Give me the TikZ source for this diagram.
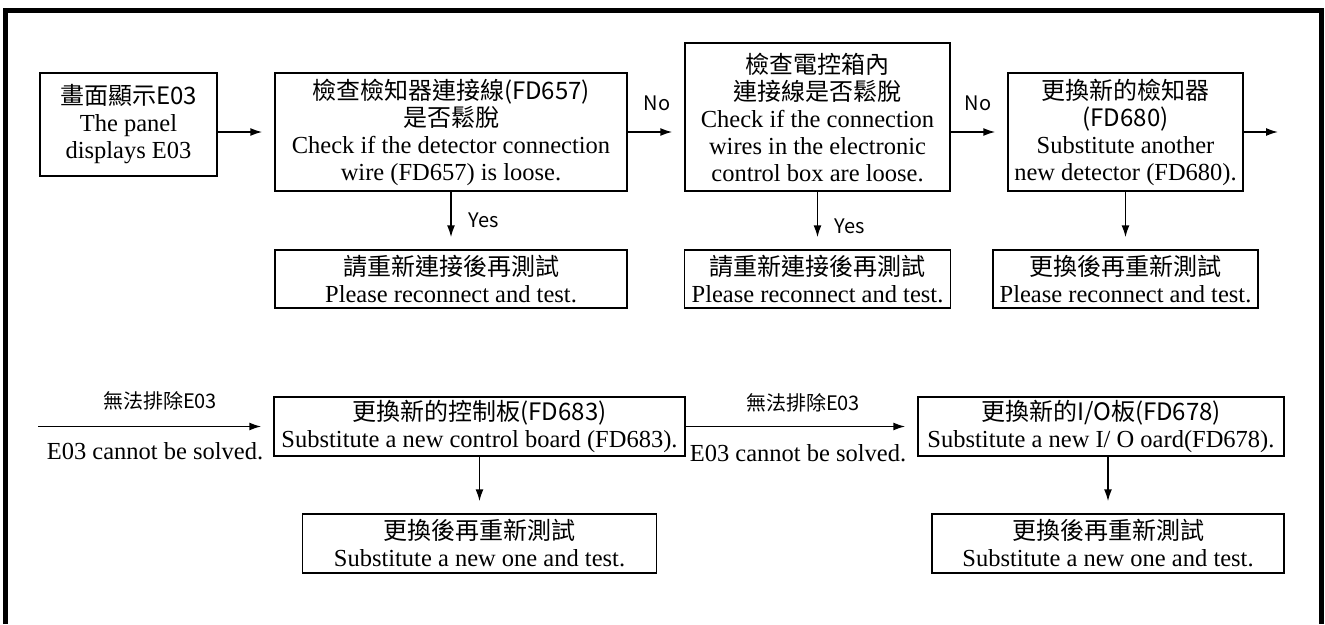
\documentclass[tikz,border=0pt]{standalone}
\usepackage{fontspec}
\setmainfont{Liberation Serif}
\newfontfamily\cjk{Noto Sans CJK TC}
\usetikzlibrary{arrows.meta}

\newcommand{\zhline}[1]{{\cjk\fontsize{24}{27}\selectfont #1}}

\begin{document}
\begin{tikzpicture}[x=1pt, y=-1pt,
    box/.style={draw, line width=1.5pt, inner sep=0pt, align=center,
                font=\fontsize{24.5}{27}\selectfont},
    arr/.style={-{Latex[length=12pt,width=8pt]}, line width=1.5pt, shorten >=12pt},
    tag/.style={font=\cjk\fontsize{20}{22}\selectfont},
    note/.style={font=\fontsize{24.5}{27}\selectfont}]

    \useasboundingbox (0,0) rectangle (1325,624);

    % Frame
    \draw[line width=5pt] (5.5,624) -- (5.5,10.5) -- (1321,10.5) -- (1321,624);

    % First row
    \node[box, minimum width=177pt, minimum height=103pt] (panel) at (128.5,124.5)
        {\zhline{畫面顯示E03}\\The panel\\displays E03};
    \node[box, minimum width=352pt, minimum height=118pt] (chkwire) at (451,132)
        {\zhline{檢查檢知器連接線(FD657)}\\\zhline{是否鬆脫}\\Check if the detector connection\\wire (FD657) is loose.};
    \node[box, minimum width=265pt, minimum height=148pt] (chkbox) at (817.5,117)
        {\zhline{檢查電控箱內}\\\zhline{連接線是否鬆脫}\\Check if the connection\\wires in the electronic\\control box are loose.};
    \node[box, minimum width=235pt, minimum height=118pt] (newdet) at (1125.5,132)
        {\zhline{更換新的檢知器}\\\zhline{(FD680)}\\Substitute another\\new detector (FD680).};
    \coordinate (detout) at (1278,132);

    % Second row
    \node[box, minimum width=352pt, minimum height=58pt] (retrywire) at (451,279)
        {\zhline{請重新連接後再測試}\\Please reconnect and test.};
    \node[box, minimum width=266pt, minimum height=58pt] (retrybox) at (817.5,279)
        {\zhline{請重新連接後再測試}\\Please reconnect and test.};
    \node[box, minimum width=265pt, minimum height=58pt] (retrydet) at (1125.5,279)
        {\zhline{更換後再重新測試}\\Please reconnect and test.};

    % Third row
    \coordinate (errin) at (38,426.5);
    \node[box, minimum width=411pt, minimum height=59pt] (newboard) at (479.5,426.5)
        {\zhline{更換新的控制板(FD683)}\\Substitute a new control board (FD683).};
    \node[box, minimum width=366pt, minimum height=59pt] (newio) at (1101,426.5)
        {\zhline{更換新的I/O板(FD678)}\\Substitute a new I/ O oard(FD678).};
    \node[box, minimum width=354pt, minimum height=59pt] (testboard) at (479.5,543.5)
        {\zhline{更換後再重新測試}\\Substitute a new one and test.};
    \node[box, minimum width=352pt, minimum height=59pt] (testio) at (1108,543.5)
        {\zhline{更換後再重新測試}\\Substitute a new one and test.};

    % Arrows
    \draw[arr] (panel.east |- chkwire.west) -- (chkwire.west);
    \draw[arr] (chkwire) -- (chkbox.west |- chkwire.east);
    \draw[arr] (chkbox.east |- newdet.west) -- (newdet);
    \draw[arr, shorten >=0pt] (newdet) -- (detout);
    \draw[arr] (chkwire) -- (retrywire);
    \draw[arr] (chkbox) -- (retrybox);
    \draw[arr] (newdet) -- (retrydet);
    \draw[arr] (errin) -- (newboard);
    \draw[arr] (newboard) -- (newio);
    \draw[arr] (newboard) -- (testboard);
    \draw[arr] (newio.south -| testio) -- (testio);

    % Labels
    \node[tag] (no1) at (657,103) {No};
    \node[tag] (no2) at (978,103) {No};
    \node[tag] (yes1) at (484,220) {Yes};
    \node[tag] (yes2) at (850,226) {Yes};
    \node[tag] (fail1) at (160,401) {無法排除E03};
    \node[note] (fail1en) at (155,451) {E03 cannot be solved.};
    \node[tag] (fail2) at (803,403) {無法排除E03};
    \node[note] (fail2en) at (798,453) {E03 cannot be solved.};

\end{tikzpicture}
\end{document}
